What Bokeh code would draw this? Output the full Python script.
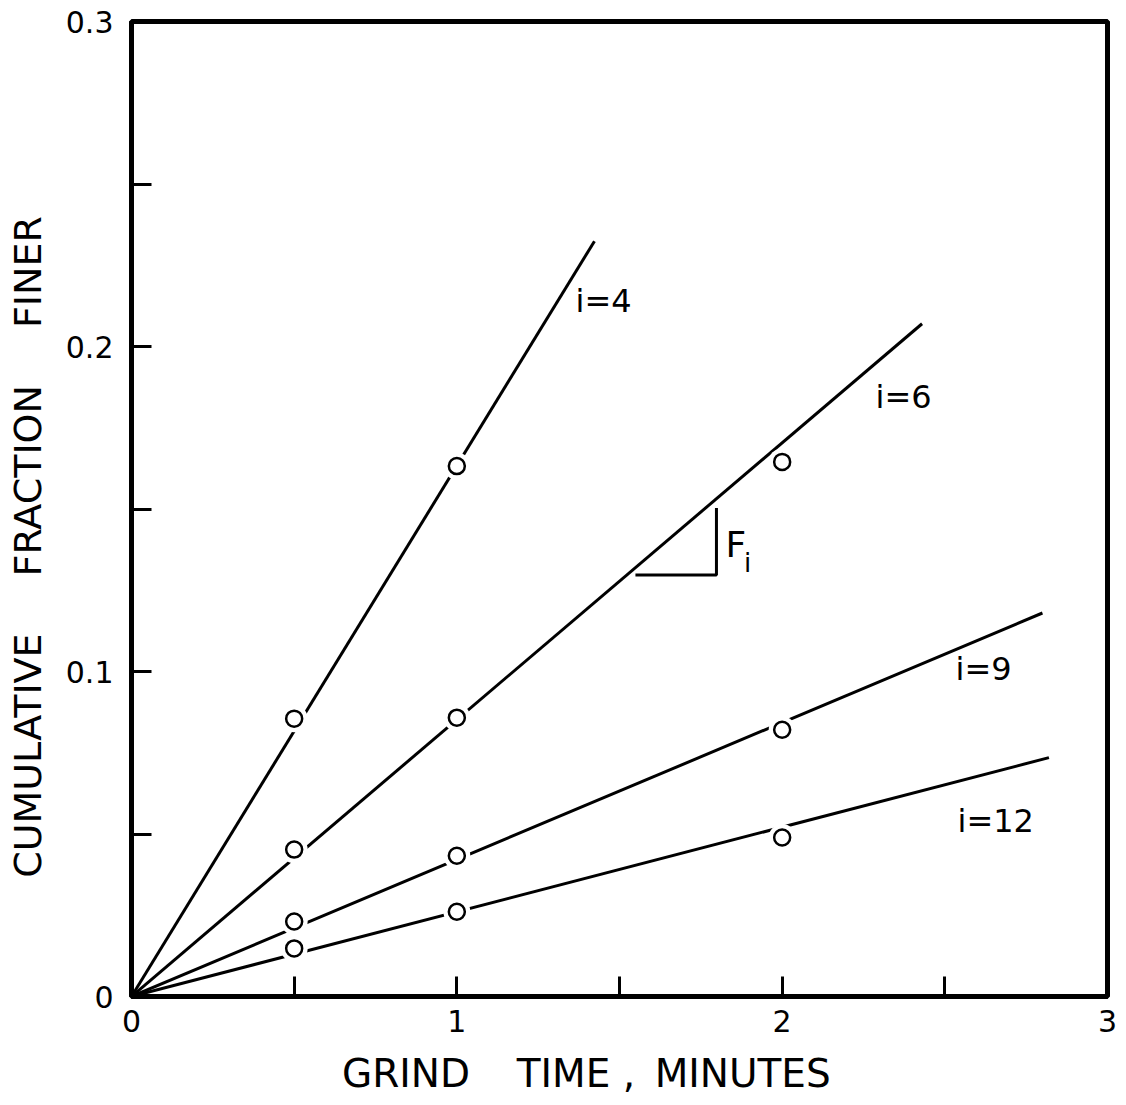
import math
from bokeh.plotting import figure
from bokeh.models import Range1d, FixedTicker
from bokeh.core.properties import value
from bokeh.embed import file_html
from bokeh.resources import INLINE

FONT = "DejaVu Sans"

# ---- data ----
grind_time = [0.5, 1.0, 2.0]
frac_i4 = [0.0855, 0.1632]            # measured at 0.5 and 1 min
frac_i6 = [0.0452, 0.0858, 0.1645]
frac_i9 = [0.0231, 0.0433, 0.0821]
frac_i12 = [0.0148, 0.0261, 0.0489]

# fitted straight lines through the origin: end points
line_end_x = [1.423, 2.43, 2.80, 2.82]
line_end_y = [0.2324, 0.207, 0.118, 0.0735]

series_labels = ["i=4", "i=6", "i=9", "i=12"]

x_ticks = [0, 0.5, 1, 1.5, 2, 2.5, 3]
x_tick_labels = {0: "0", 0.5: "", 1: "1", 1.5: "", 2: "2", 2.5: "", 3: "3"}
y_ticks = [0, 0.05, 0.1, 0.15, 0.2, 0.25, 0.3]
y_tick_labels = {0: "0", 0.05: "", 0.1: "0.1", 0.15: "", 0.2: "0.2", 0.25: "", 0.3: "0.3"}

x_title = "GRIND\u2003\u2009TIME ,\u2002MINUTES"
y_title = "CUMULATIVE\u2003\u2002FRACTION\u2003\u2002FINER"

# slope triangle (F_i)
tri_x = [1.549, 1.798, 1.798]
tri_y = [0.1297, 0.1297, 0.1503]

# ---- figure ----
p = figure(width=1118, height=1098, output_backend="svg", toolbar_location=None,
           x_range=Range1d(0, 3), y_range=Range1d(0, 0.3),
           min_border_left=131, min_border_right=11, min_border_top=21, min_border_bottom=101)
p.background_fill_color = "white"
p.border_fill_color = "white"
p.grid.visible = False
p.outline_line_color = "black"
p.outline_line_width = 5

for ax in (p.xaxis[0], p.yaxis[0]):
    ax.axis_line_width = 5
    ax.axis_line_color = "black"
    ax.major_tick_in = 20
    ax.major_tick_out = 0
    ax.major_tick_line_width = 3
    ax.minor_tick_line_color = None
    ax.major_label_text_font = FONT
    ax.major_label_text_font_size = "30px"
    ax.major_label_text_color = "black"
    ax.axis_label_text_font = FONT
    ax.axis_label_text_font_style = "normal"
    ax.axis_label_text_color = "black"

p.xaxis.ticker = FixedTicker(ticks=x_ticks)
p.xaxis.major_label_overrides = x_tick_labels
p.xaxis.major_label_standoff = 13
p.yaxis.ticker = FixedTicker(ticks=y_ticks)
p.yaxis.major_label_overrides = y_tick_labels
p.yaxis.major_label_standoff = 18

# axis titles (trailing em spaces shift the centred title like the reference)
p.xaxis.axis_label = x_title + "\u2003\u2002\u2009"
p.xaxis.axis_label_text_font_size = "39px"
p.xaxis.axis_label_standoff = 16
p.yaxis.axis_label = y_title + "\u2003\u2003"
p.yaxis.axis_label_text_font_size = "38px"
p.yaxis.axis_label_standoff = 13

# lines through the origin
for ex, ey in zip(line_end_x, line_end_y):
    p.line([0, ex], [0, ey], line_color="black", line_width=3)

# data points: white halo (gap in line) then open circle
all_series = [frac_i4, frac_i6, frac_i9, frac_i12]
for ys in all_series:
    xs = grind_time[:len(ys)]
    p.scatter(xs, ys, size=27, fill_color="white", line_color=None)
    p.scatter(xs, ys, size=16, fill_color="white", line_color="black", line_width=2.5)

# slope triangle
p.line(tri_x, tri_y, line_color="black", line_width=3)

# series labels
lab_x = [1.365, 2.287, 2.533, 2.539]
lab_y = [0.214, 0.1845, 0.1008, 0.0541]
p.text(lab_x, lab_y, text=series_labels, text_font=value(FONT), text_font_size="32px",
       text_align="left", text_baseline="middle", text_color="black")

p.text([1.826], [0.139], text=["F"], text_font=value(FONT), text_font_size="36px",
       text_align="left", text_baseline="middle", text_color="black")
p.text([1.883], [0.1335], text=["i"], text_font=value(FONT), text_font_size="26px",
       text_align="left", text_baseline="middle", text_color="black")

open("out.html", "w").write(file_html(p, INLINE))
